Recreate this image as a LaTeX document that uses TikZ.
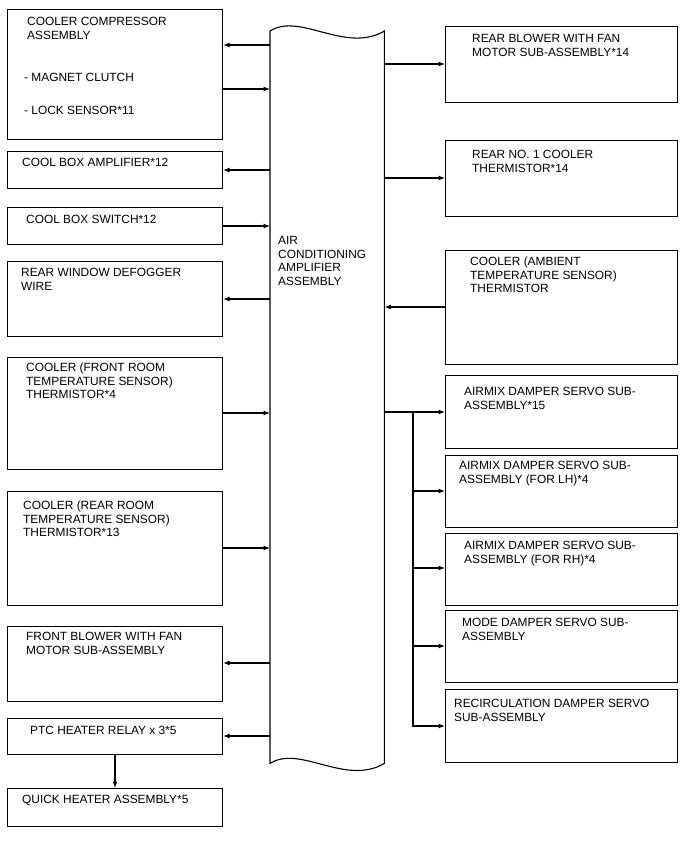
\documentclass[tikz,border=0pt]{standalone}
\usepackage{fontspec}
\setmainfont{Liberation Sans}
\usetikzlibrary{arrows.meta,positioning}
\tikzset{
	blk/.style={draw, line width=1.1pt, anchor=north west, inner sep=0pt, minimum width=215pt},
	rblk/.style={blk, minimum width=232pt},
	txt/.style={anchor=north west, inner sep=0pt, align=left, font=\fontsize{11.9}{13.8}\selectfont},
	arr/.style={line width=1.1pt, -{Latex[length=6.5pt,width=5pt]}},
}
\begin{document}
\begin{tikzpicture}[x=1pt,y=-1pt]
				 \useasboundingbox (0,0) rectangle (688,852);
				 % \draw[color=gray,step=10pt,help lines,opacity=0.3] (0,0) grid (688,852); %help grid
				 % left column
				 \node[blk, minimum height=130pt] (comp) at (7,9) {};
				 \node[blk, minimum height=37pt] (cbamp) at (7,151) {};
				 \node[blk, minimum height=37pt] (cbsw) at (7,207) {};
				 \node[blk, minimum height=75pt] (defog) at (7,261) {};
				 \node[blk, minimum height=112pt] (froom) at (7,357) {};
				 \node[blk, minimum height=114pt] (rroom) at (7,491) {};
				 \node[blk, minimum height=75pt] (fblow) at (7,626) {};
				 \node[blk, minimum height=36pt] (ptc) at (7,718) {};
				 \node[blk, minimum height=38pt] (quick) at (7,788) {};
				 \node[txt] (compT) at (27,15.4) {\strut COOLER COMPRESSOR\\ASSEMBLY};
				 \node[txt] (compA) at (24,71.4) {\strut - MAGNET CLUTCH};
				 \node[txt] (compB) at (24,104.4) {\strut - LOCK SENSOR*11};
				 \node[txt] (cbampT) at (22,156.4) {\strut COOL BOX AMPLIFIER*12};
				 \node[txt] (cbswT) at (26,213.4) {\strut COOL BOX SWITCH*12};
				 \node[txt] (defogT) at (21,266.4) {\strut REAR WINDOW DEFOGGER\\WIRE};
				 \node[txt] (froomT) at (26,361.4) {\strut COOLER (FRONT ROOM\\TEMPERATURE SENSOR)\\THERMISTOR*4};
				 \node[txt] (rroomT) at (23,499.4) {\strut COOLER (REAR ROOM\\TEMPERATURE SENSOR)\\THERMISTOR*13};
				 \node[txt] (fblowT) at (26,630.4) {\strut FRONT BLOWER WITH FAN\\MOTOR SUB-ASSEMBLY};
				 \node[txt] (ptcT) at (30,724.4) {\strut PTC HEATER RELAY x 3*5};
				 \node[txt] (quickT) at (22,793.4) {\strut QUICK HEATER ASSEMBLY*5};
				 % amplifier
				 \node[anchor=north west, inner sep=0pt, minimum width=114pt, minimum height=732pt] (acamp) at (270,31) {};
				 \draw[line width=1.1pt] (acamp.north west) .. controls +(30,-19) and +(-39,23) .. (acamp.north east)
				 		-- (acamp.south east) .. controls +(-39,23) and +(30,-19) .. (acamp.south west) -- cycle;
				 \node[txt] (acampT) at (278,234.4) {\strut AIR\\CONDITIONING\\AMPLIFIER\\ASSEMBLY};
				 % right column
				 \node[rblk, minimum height=76pt] (rblow) at (445,26) {};
				 \node[rblk, minimum height=76pt] (rno1) at (445,140) {};
				 \node[rblk, minimum height=114pt] (amb) at (445,250) {};
				 \node[rblk, minimum height=73pt] (am15) at (445,375) {};
				 \node[rblk, minimum height=72pt] (amlh) at (445,455) {};
				 \node[rblk, minimum height=72pt] (amrh) at (445,533) {};
				 \node[rblk, minimum height=72pt] (mode) at (445,610) {};
				 \node[rblk, minimum height=73pt] (recirc) at (445,689) {};
				 \node[txt] (rblowT) at (472,32.4) {\strut REAR BLOWER WITH FAN\\MOTOR SUB-ASSEMBLY*14};
				 \node[txt] (rno1T) at (472,148.4) {\strut REAR NO. 1 COOLER\\THERMISTOR*14};
				 \node[txt] (ambT) at (470,255.4) {\strut COOLER (AMBIENT\\TEMPERATURE SENSOR)\\THERMISTOR};
				 \node[txt] (am15T) at (464,385.4) {\strut AIRMIX DAMPER SERVO SUB-\\ASSEMBLY*15};
				 \node[txt] (amlhT) at (459,459.4) {\strut AIRMIX DAMPER SERVO SUB-\\ASSEMBLY (FOR LH)*4};
				 \node[txt] (amrhT) at (464,539.4) {\strut AIRMIX DAMPER SERVO SUB-\\ASSEMBLY (FOR RH)*4};
				 \node[txt] (modeT) at (462,616.4) {\strut MODE DAMPER SERVO SUB-\\ASSEMBLY};
				 \node[txt] (recircT) at (454,697.4) {\strut RECIRCULATION DAMPER SERVO\\SUB-ASSEMBLY};
				 % left connections
				 \draw[arr] (acamp.west |- 0,45) -- (comp.east |- 0,45);
				 \draw[arr] (comp.east |- 0,89) -- (acamp.west |- 0,89);
				 \draw[arr] (acamp.west |- 0,170) -- (cbamp.east |- 0,170);
				 \draw[arr] (cbsw.east |- 0,226) -- (acamp.west |- 0,226);
				 \draw[arr] (acamp.west |- 0,299) -- (defog.east |- 0,299);
				 \draw[arr] (froom.east |- 0,413) -- (acamp.west |- 0,413);
				 \draw[arr] (rroom.east |- 0,548) -- (acamp.west |- 0,548);
				 \draw[arr] (acamp.west |- 0,663) -- (fblow.east |- 0,663);
				 \draw[arr] (acamp.west |- 0,736) -- (ptc.east |- 0,736);
				 \draw[arr] (ptc.south -| 115,0) -- (quick.north -| 115,0);
				 % right connections
				 \draw[arr] (acamp.east |- 0,64) -- (rblow.west |- 0,64);
				 \draw[arr] (acamp.east |- 0,178) -- (rno1.west |- 0,178);
				 \draw[arr] (amb.west |- 0,307) -- (acamp.east |- 0,307);
				 \draw[arr] (acamp.east |- 0,412) -- (am15.west |- 0,412);
				 \coordinate (bus) at (413,412);
				 \draw[arr] (bus |- 0,491) -- (amlh.west |- 0,491);
				 \draw[arr] (bus |- 0,568) -- (amrh.west |- 0,568);
				 \draw[arr] (bus |- 0,646) -- (mode.west |- 0,646);
				 \draw[arr] (bus) |- (recirc.west |- 0,726);
\end{tikzpicture}
\end{document}
